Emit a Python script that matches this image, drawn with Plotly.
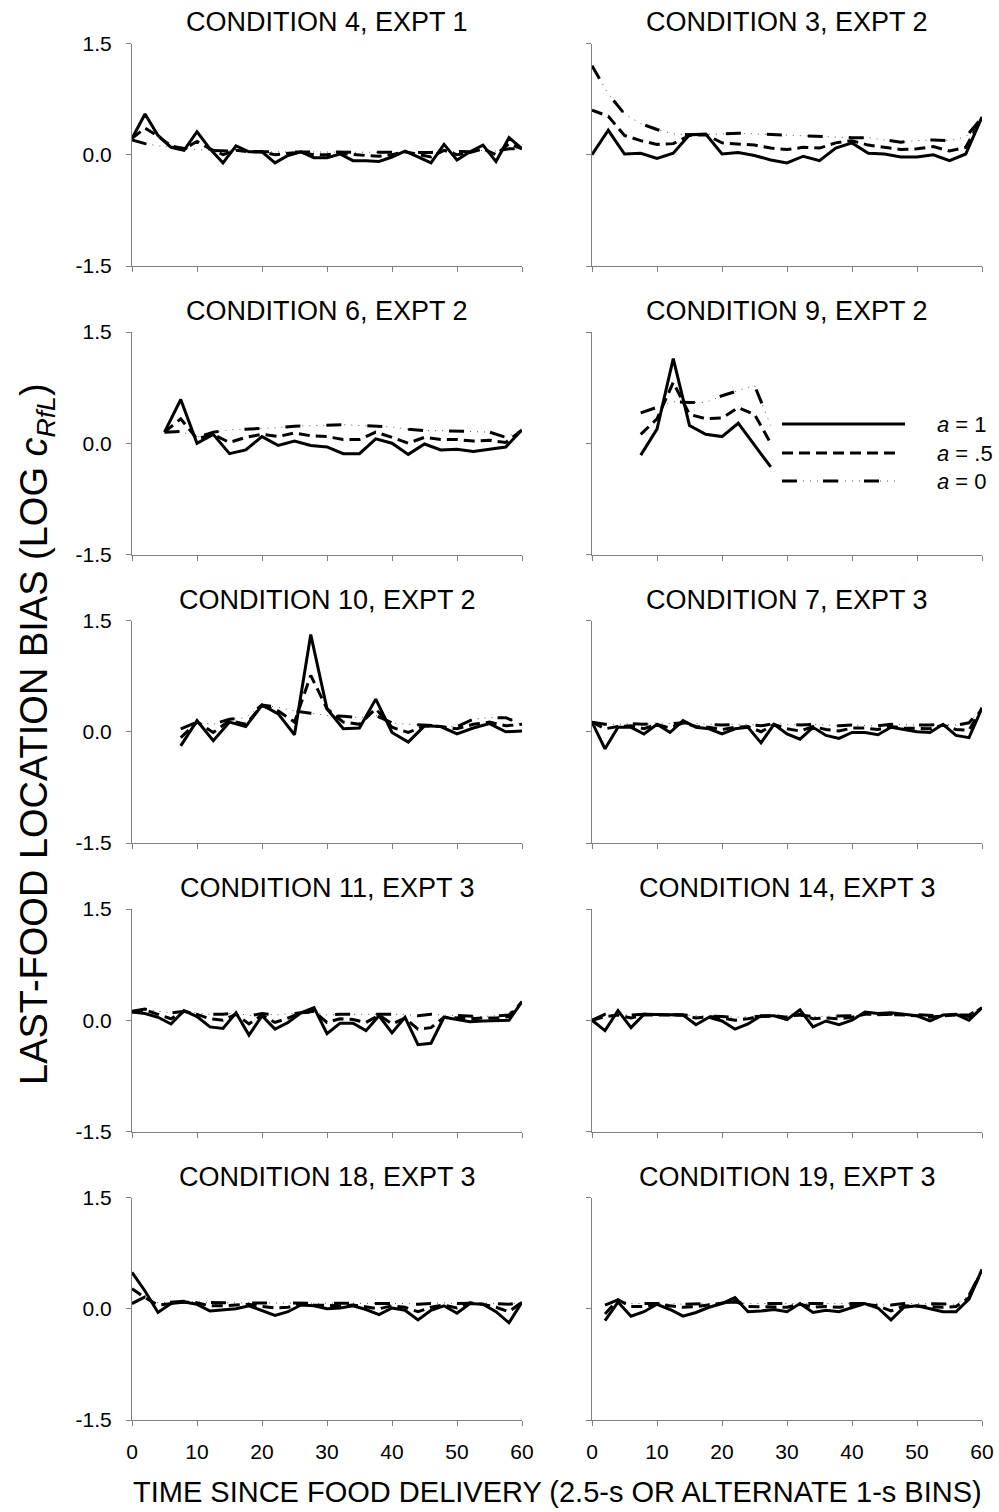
import plotly.graph_objects as go

# ---------------------------------------------------------------------------
# Bin times (s since food delivery)
# ---------------------------------------------------------------------------
BINS_ALT_1S = [0, 2, 4, 6, 8, 10, 12, 14, 16, 18, 20, 22, 24, 26, 28, 30,
               32, 34, 36, 38, 40, 42, 44, 46, 48, 50, 52, 54, 56, 58, 60]
BINS_ALT_1S_FROM2 = [2, 4, 6, 8, 10, 12, 14, 16, 18, 20, 22, 24, 26, 28, 30,
                     32, 34, 36, 38, 40, 42, 44, 46, 48, 50, 52, 54, 56, 58, 60]
BINS_25S = [0, 2.5, 5, 7.5, 10, 12.5, 15, 17.5, 20, 22.5, 25, 27.5, 30,
            32.5, 35, 37.5, 40, 42.5, 45, 47.5, 50, 52.5, 55, 57.5, 60]
BINS_25S_FROM5 = [5, 7.5, 10, 12.5, 15, 17.5, 20, 22.5, 25, 27.5, 30, 32.5,
                  35, 37.5, 40, 42.5, 45, 47.5, 50, 52.5, 55, 57.5, 60]
BINS_25S_FROM75 = [7.5, 10, 12.5, 15, 17.5, 20, 22.5, 25, 27.5, 30, 32.5,
                   35, 37.5, 40, 42.5, 45, 47.5, 50, 52.5, 55, 57.5, 60]
BINS_25S_SHORT = [7.5, 10, 12.5, 15, 17.5, 20, 22.5, 25, 27.5]

# ---------------------------------------------------------------------------
# Log last-food location bias for a = 1, a = .5 and a = 0
# ---------------------------------------------------------------------------
c4e1_a1 = [0.22, 0.55, 0.26, 0.10, 0.06, 0.31, 0.08, -0.11, 0.12, 0.04, 0.04,
           -0.11, -0.01, 0.04, -0.04, -0.04, 0.01, -0.08, -0.08, -0.09, -0.03,
           0.05, -0.03, -0.11, 0.14, -0.07, 0.04, 0.13, -0.09, 0.23, 0.08]
c4e1_a05 = [0.22, 0.36, 0.25, 0.12, 0.08, 0.18, 0.08, 0.00, 0.06, 0.04, 0.04,
            0.00, 0.02, 0.03, 0.00, 0.00, 0.02, 0.00, -0.01, -0.02, 0.00,
            0.04, 0.01, -0.03, 0.06, 0.00, 0.03, 0.08, 0.00, 0.15, 0.08]
c4e1_a0 = [0.20, 0.15, 0.12, 0.10, 0.08, 0.07, 0.06, 0.05, 0.05, 0.04, 0.04,
           0.04, 0.04, 0.04, 0.03, 0.03, 0.03, 0.03, 0.03, 0.03, 0.03,
           0.04, 0.04, 0.03, 0.05, 0.04, 0.04, 0.06, 0.05, 0.08, 0.08]

c3e2_a1 = [0.00, 0.33, 0.01, 0.02, -0.05, 0.02, 0.27, 0.28, 0.01, 0.03, -0.01,
           -0.07, -0.11, -0.02, -0.08, 0.09, 0.16, 0.02, 0.01, -0.03, -0.03,
           0.00, -0.08, 0.01, 0.51]
c3e2_a05 = [0.60, 0.52, 0.26, 0.19, 0.14, 0.15, 0.26, 0.27, 0.16, 0.15, 0.13,
            0.09, 0.07, 0.10, 0.09, 0.16, 0.19, 0.13, 0.10, 0.07, 0.08,
            0.11, 0.05, 0.10, 0.50]
c3e2_a0 = [1.20, 0.82, 0.55, 0.42, 0.34, 0.28, 0.27, 0.28, 0.28, 0.29, 0.28,
           0.27, 0.26, 0.25, 0.24, 0.24, 0.23, 0.23, 0.20, 0.17, 0.19,
           0.20, 0.19, 0.24, 0.50]

c6e2_a1 = [0.15, 0.59, 0.00, 0.12, -0.14, -0.09, 0.09, -0.03, 0.03, -0.03,
           -0.05, -0.14, -0.14, 0.06, 0.00, -0.15, -0.01, -0.09, -0.08, -0.11,
           -0.08, -0.05, 0.18]
c6e2_a05 = [0.15, 0.33, 0.06, 0.12, 0.01, 0.08, 0.12, 0.09, 0.14, 0.10, 0.09,
            0.05, 0.05, 0.15, 0.08, 0.00, 0.08, 0.05, 0.05, 0.03, 0.04,
            0.01, 0.18]
c6e2_a0 = [0.15, 0.16, 0.08, 0.15, 0.18, 0.19, 0.19, 0.21, 0.23, 0.24, 0.25,
           0.25, 0.24, 0.23, 0.22, 0.19, 0.17, 0.17, 0.16, 0.16, 0.15,
           0.08, 0.18]

c9e2_a1 = [-0.16, 0.19, 1.14, 0.24, 0.12, 0.09, 0.27, -0.02, -0.32]
c9e2_a05 = [0.12, 0.33, 0.82, 0.39, 0.33, 0.34, 0.48, 0.39, 0.00]
c9e2_a0 = [0.41, 0.49, 0.56, 0.55, 0.55, 0.64, 0.71, 0.78, 0.24]

c10e2_a1 = [-0.19, 0.15, -0.12, 0.13, 0.07, 0.36, 0.24, -0.04, 1.31, 0.31,
            0.04, 0.05, 0.44, -0.01, -0.14, 0.08, 0.07, -0.03, 0.05, 0.11,
            0.00, 0.01]
c10e2_a05 = [-0.08, 0.13, -0.01, 0.15, 0.10, 0.35, 0.28, 0.13, 0.76, 0.31,
             0.13, 0.10, 0.31, 0.06, -0.01, 0.08, 0.07, 0.04, 0.10, 0.13,
             0.08, 0.10]
c10e2_a0 = [0.04, 0.13, 0.10, 0.17, 0.19, 0.36, 0.33, 0.28, 0.25, 0.22,
            0.21, 0.19, 0.22, 0.12, 0.10, 0.09, 0.08, 0.07, 0.17, 0.19,
            0.19, 0.10]

c7e3_a1 = [0.13, -0.23, 0.06, 0.06, -0.03, 0.10, -0.01, 0.15, 0.06, 0.04,
           -0.03, 0.04, 0.06, -0.15, 0.10, -0.03, -0.10, 0.06, -0.05, -0.09,
           -0.01, -0.01, -0.04, 0.06, 0.03, 0.00, -0.01, 0.10, -0.05, -0.08,
           0.32]
c7e3_a05 = [0.13, 0.04, 0.07, 0.08, 0.04, 0.10, 0.05, 0.12, 0.07, 0.06,
            0.03, 0.06, 0.07, 0.00, 0.10, 0.04, 0.01, 0.07, 0.03, 0.01,
            0.05, 0.05, 0.03, 0.07, 0.05, 0.04, 0.04, 0.09, 0.03, 0.02,
            0.32]
c7e3_a0 = [0.13, 0.10, 0.10, 0.11, 0.10, 0.12, 0.11, 0.12, 0.11, 0.10,
           0.09, 0.10, 0.10, 0.08, 0.11, 0.10, 0.09, 0.10, 0.09, 0.08,
           0.09, 0.09, 0.08, 0.10, 0.09, 0.09, 0.09, 0.10, 0.09, 0.12,
           0.32]

c11e3_a1 = [0.11, 0.09, 0.04, -0.05, 0.13, 0.05, -0.09, -0.11, 0.10, -0.20,
            0.06, -0.12, -0.03, 0.10, 0.17, -0.18, -0.04, -0.04, -0.14, 0.06,
            -0.17, 0.04, -0.33, -0.31, 0.04, 0.01, -0.02, -0.01, -0.01, 0.00,
            0.25]
c11e3_a05 = [0.11, 0.14, 0.08, 0.02, 0.12, 0.08, 0.02, 0.00, 0.08, -0.05,
             0.07, -0.03, 0.03, 0.10, 0.12, -0.03, 0.02, 0.01, -0.03, 0.07,
             -0.05, 0.03, -0.12, -0.10, 0.04, 0.03, 0.02, 0.03, 0.03, 0.05,
             0.25]
c11e3_a0 = [0.12, 0.15, 0.12, 0.10, 0.12, 0.10, 0.08, 0.08, 0.10, 0.06,
            0.09, 0.07, 0.09, 0.10, 0.11, 0.07, 0.08, 0.08, 0.07, 0.08,
            0.07, 0.08, 0.06, 0.08, 0.07, 0.06, 0.05, 0.05, 0.06, 0.07,
            0.25]

c14e3_a1 = [0.00, -0.14, 0.13, -0.10, 0.08, 0.08, 0.07, 0.07, -0.06, 0.04,
            -0.01, -0.12, -0.05, 0.06, 0.06, 0.01, 0.14, -0.09, -0.01, -0.06,
            0.00, 0.11, 0.09, 0.10, 0.08, 0.06, -0.01, 0.07, 0.08, 0.00,
            0.17]
c14e3_a05 = [0.00, 0.05, 0.07, 0.03, 0.07, 0.07, 0.07, 0.07, 0.03, 0.05,
             0.03, 0.00, 0.02, 0.05, 0.06, 0.04, 0.08, 0.02, 0.03, 0.02,
             0.04, 0.08, 0.08, 0.08, 0.07, 0.06, 0.04, 0.06, 0.07, 0.05,
             0.17]
c14e3_a0 = [0.00, 0.08, 0.08, 0.07, 0.08, 0.08, 0.08, 0.07, 0.06, 0.06,
            0.05, 0.04, 0.05, 0.06, 0.06, 0.06, 0.07, 0.05, 0.05, 0.05,
            0.06, 0.07, 0.08, 0.08, 0.08, 0.07, 0.06, 0.06, 0.07, 0.07,
            0.17]

c18e3_a1 = [0.49, 0.24, -0.05, 0.07, 0.09, 0.06, -0.03, -0.01, 0.00, 0.04,
            -0.02, -0.09, -0.04, 0.05, 0.04, 0.00, 0.01, 0.04, -0.01, -0.08,
            0.01, -0.02, -0.15, -0.02, 0.04, -0.06, 0.07, 0.06, -0.04, -0.19,
            0.09]
c18e3_a05 = [0.27, 0.15, 0.05, 0.07, 0.09, 0.08, 0.04, 0.04, 0.05, 0.06,
             0.03, 0.01, 0.02, 0.06, 0.05, 0.04, 0.04, 0.05, 0.03, 0.00,
             0.04, 0.02, -0.04, 0.02, 0.05, 0.01, 0.08, 0.06, 0.02, -0.04,
             0.09]
c18e3_a0 = [0.07, 0.16, 0.08, 0.09, 0.10, 0.09, 0.08, 0.08, 0.08, 0.08,
            0.07, 0.07, 0.07, 0.08, 0.08, 0.08, 0.08, 0.08, 0.07, 0.07,
            0.07, 0.07, 0.06, 0.07, 0.08, 0.07, 0.08, 0.08, 0.07, 0.06,
            0.09]

c19e3_a1 = [-0.16, 0.09, -0.10, -0.04, 0.06, -0.01, -0.10, -0.05, 0.02, 0.07,
            0.15, -0.04, -0.03, -0.01, -0.04, 0.07, -0.05, -0.02, -0.04, 0.01,
            0.07, 0.01, -0.15, 0.02, 0.04, 0.00, -0.04, -0.04, 0.13, 0.53]
c19e3_a05 = [-0.07, 0.12, 0.03, 0.03, 0.06, 0.04, 0.02, 0.03, 0.05, 0.07,
             0.10, 0.03, 0.03, 0.03, 0.02, 0.06, 0.02, 0.03, 0.02, 0.04,
             0.06, 0.04, -0.03, 0.04, 0.04, 0.03, 0.02, 0.03, 0.15, 0.52]
c19e3_a0 = [0.05, 0.12, 0.07, 0.07, 0.08, 0.07, 0.06, 0.06, 0.07, 0.08,
            0.09, 0.07, 0.07, 0.07, 0.07, 0.08, 0.07, 0.07, 0.07, 0.07,
            0.08, 0.07, 0.05, 0.07, 0.07, 0.07, 0.06, 0.06, 0.18, 0.52]

PANEL_TITLES = ["CONDITION 4, EXPT 1", "CONDITION 3, EXPT 2",
                "CONDITION 6, EXPT 2", "CONDITION 9, EXPT 2",
                "CONDITION 10, EXPT 2", "CONDITION 7, EXPT 3",
                "CONDITION 11, EXPT 3", "CONDITION 14, EXPT 3",
                "CONDITION 18, EXPT 3", "CONDITION 19, EXPT 3"]
PANEL_X = [BINS_ALT_1S, BINS_25S, BINS_25S_FROM5, BINS_25S_SHORT,
           BINS_25S_FROM75, BINS_ALT_1S, BINS_ALT_1S, BINS_ALT_1S,
           BINS_ALT_1S, BINS_ALT_1S_FROM2]
PANEL_A1 = [c4e1_a1, c3e2_a1, c6e2_a1, c9e2_a1, c10e2_a1,
            c7e3_a1, c11e3_a1, c14e3_a1, c18e3_a1, c19e3_a1]
PANEL_A05 = [c4e1_a05, c3e2_a05, c6e2_a05, c9e2_a05, c10e2_a05,
             c7e3_a05, c11e3_a05, c14e3_a05, c18e3_a05, c19e3_a05]
PANEL_A0 = [c4e1_a0, c3e2_a0, c6e2_a0, c9e2_a0, c10e2_a0,
            c7e3_a0, c11e3_a0, c14e3_a0, c18e3_a0, c19e3_a0]

X_TICKS = [0, 10, 20, 30, 40, 50, 60]
Y_TICKS = [-1.5, 0.0, 1.5]
Y_TICK_TEXT = ["-1.5", "0.0", "1.5"]
LEGEND_LABELS = ["<i>a</i> = 1", "<i>a</i> = .5", "<i>a</i> = 0"]

# ---------------------------------------------------------------------------
# Page geometry (pixels)
# ---------------------------------------------------------------------------
W, H = 999, 1512
COLS = [(132, 522), (592, 982)]
ROW_TOPS = [43.5, 332, 620.5, 909, 1197.5]
PLOT_H = 222.5
FONT = "Liberation Sans, Arial, sans-serif"
AXIS_GREY = "#808080"

STYLE_A1 = dict(color="black", width=3)
STYLE_A05 = dict(color="black", width=3, dash="11px,6px")
STYLE_A0_DASH = dict(color="black", width=3, dash="15px,26px")
STYLE_A0_DOT = dict(color="#555555", width=1, dash="1px,6px")


def fx(p):
    return p / W


def fy(p):
    return 1 - p / H


fig = go.Figure()
layout = {}
annotations = []

for i in range(10):
    n = i + 1
    row, col = divmod(i, 2)
    x0, x1 = COLS[col]
    top = ROW_TOPS[row]
    bottom = top + PLOT_H
    xs = PANEL_X[i]
    ax = "" if n == 1 else str(n)

    # a = 0: long dashes with faint dots between them
    fig.add_trace(go.Scatter(x=xs, y=PANEL_A0[i], mode="lines",
                             line=STYLE_A0_DOT, xaxis="x" + ax, yaxis="y" + ax,
                             hoverinfo="skip"))
    fig.add_trace(go.Scatter(x=xs, y=PANEL_A0[i], mode="lines",
                             line=STYLE_A0_DASH, xaxis="x" + ax, yaxis="y" + ax))
    fig.add_trace(go.Scatter(x=xs, y=PANEL_A05[i], mode="lines",
                             line=STYLE_A05, xaxis="x" + ax, yaxis="y" + ax))
    fig.add_trace(go.Scatter(x=xs, y=PANEL_A1[i], mode="lines",
                             line=STYLE_A1, xaxis="x" + ax, yaxis="y" + ax))

    layout["xaxis" + ax] = dict(
        domain=[fx(x0), fx(x1)], range=[0, 60], anchor="y" + ax,
        automargin=False,
        showline=True, linecolor=AXIS_GREY, linewidth=1,
        ticks="outside", tickcolor=AXIS_GREY, ticklen=5, tickwidth=1,
        tickvals=X_TICKS, showticklabels=(row == 4),
        tickfont=dict(family=FONT, size=21, color="black"),
        ticklabelstandoff=8,
        showgrid=False, zeroline=False, fixedrange=True)
    layout["yaxis" + ax] = dict(
        domain=[fy(bottom), fy(top)], range=[-1.5, 1.5], anchor="x" + ax,
        automargin=False,
        showline=True, linecolor=AXIS_GREY, linewidth=1,
        ticks="outside", tickcolor=AXIS_GREY, ticklen=5, tickwidth=1,
        tickvals=Y_TICKS, ticktext=Y_TICK_TEXT, showticklabels=(col == 0),
        tickfont=dict(family=FONT, size=21, color="black"),
        ticklabelstandoff=10,
        showgrid=False, zeroline=False, fixedrange=True)

    annotations.append(dict(
        text=PANEL_TITLES[i], xref="paper", yref="paper",
        x=fx((x0 + x1) / 2), y=fy(top - 21), xanchor="center", yanchor="middle",
        showarrow=False, font=dict(family=FONT, size=27, color="black")))

# Legend drawn inside the Condition 9 panel
legend_rows = [424, 453, 481]
legend_ends = [905, 898, 897]
legend_styles = [STYLE_A1, STYLE_A05, STYLE_A0_DASH]
shapes = []
for k in range(3):
    if k == 2:
        shapes.append(dict(type="line", xref="paper", yref="paper",
                           x0=fx(782), x1=fx(legend_ends[k]),
                           y0=fy(legend_rows[k]), y1=fy(legend_rows[k]),
                           line=STYLE_A0_DOT))
    shapes.append(dict(type="line", xref="paper", yref="paper",
                       x0=fx(782), x1=fx(legend_ends[k]),
                       y0=fy(legend_rows[k]), y1=fy(legend_rows[k]),
                       line=legend_styles[k]))
    annotations.append(dict(
        text=LEGEND_LABELS[k], xref="paper", yref="paper",
        x=fx(935), y=fy(legend_rows[k]), xanchor="left", yanchor="middle",
        showarrow=False, font=dict(family=FONT, size=22, color="black")))

annotations.append(dict(
    text="TIME SINCE FOOD DELIVERY (2.5-s OR ALTERNATE 1-s BINS)",
    xref="paper", yref="paper", x=fx(557), y=fy(1492),
    xanchor="center", yanchor="middle", showarrow=False,
    font=dict(family=FONT, size=29, color="black")))
annotations.append(dict(
    text="LAST-FOOD LOCATION BIAS (LOG <i>c</i><sub><i>RfL</i></sub>)",
    xref="paper", yref="paper", x=fx(37), y=fy(734),
    xanchor="center", yanchor="middle", textangle=-90, showarrow=False,
    font=dict(family=FONT, size=38, color="black")))

fig.update_layout(
    template="none",
    width=W, height=H, margin=dict(l=0, r=0, t=0, b=0, autoexpand=False),
    paper_bgcolor="white", plot_bgcolor="white",
    showlegend=False, annotations=annotations, shapes=shapes,
    **layout)

# Let the figure occupy the page edge to edge
fig.write_html("out.html", config={"displayModeBar": False},
               post_script="document.body.style.margin='0';"
                           "document.body.style.overflow='hidden';")
